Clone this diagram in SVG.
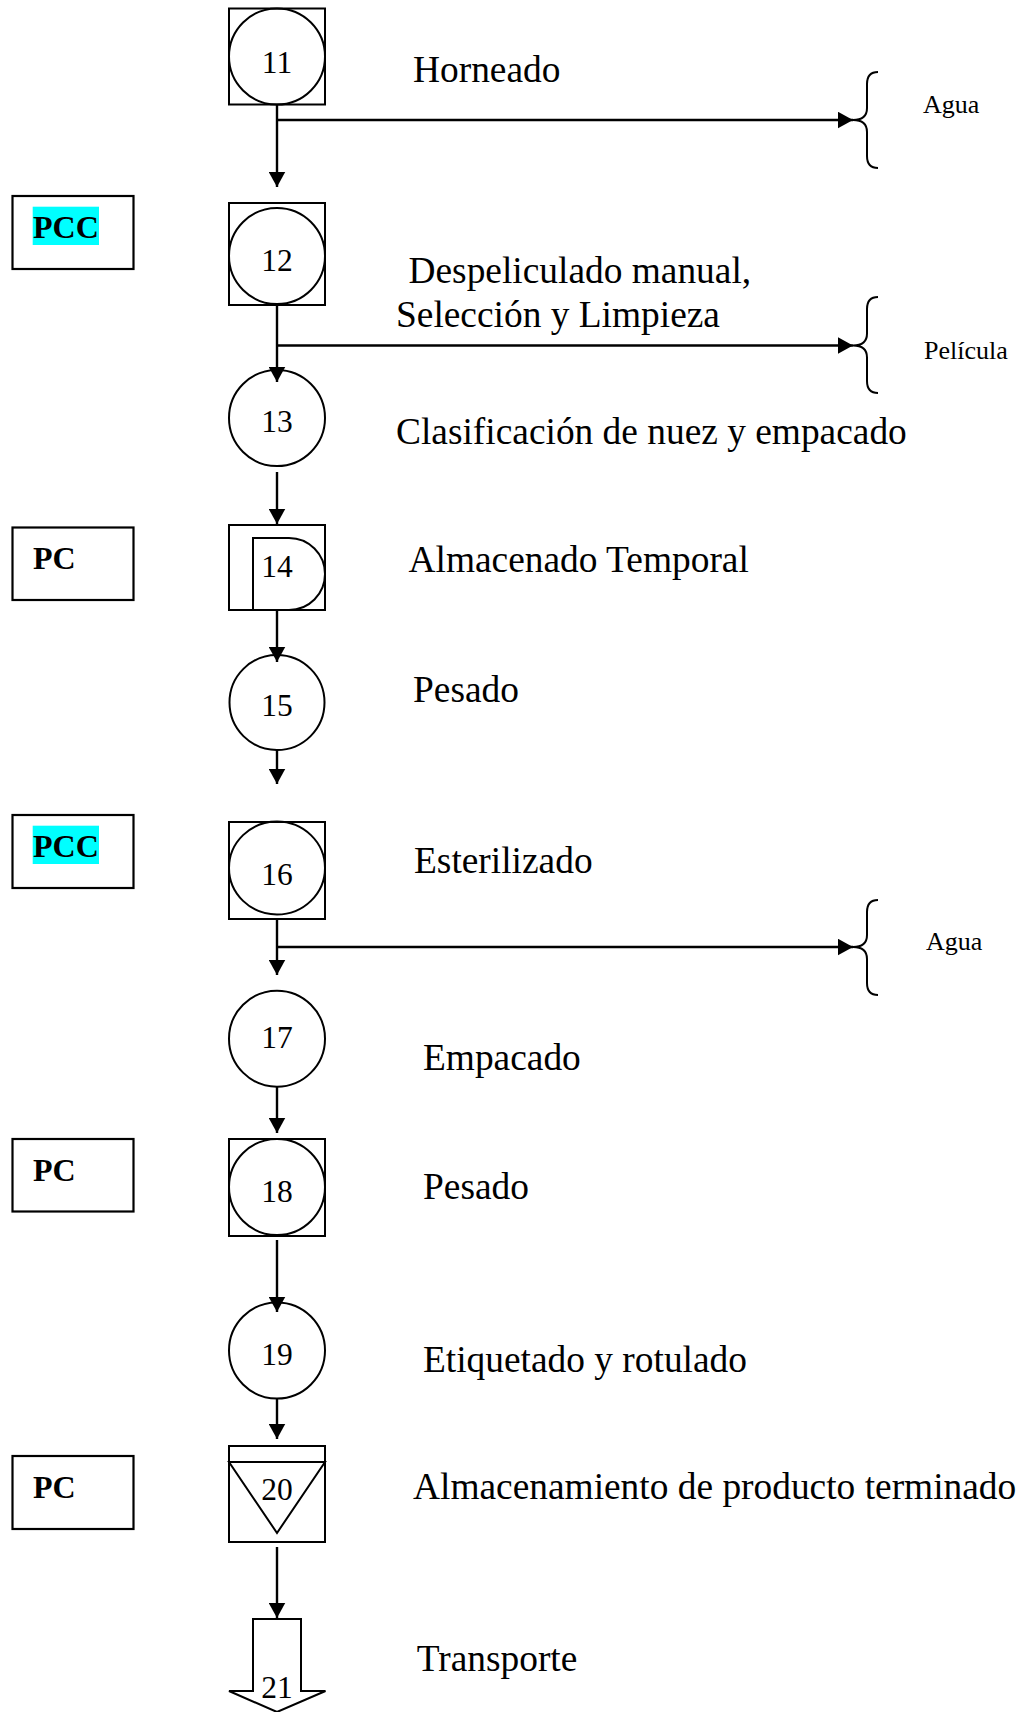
<svg xmlns="http://www.w3.org/2000/svg" width="1019" height="1712" viewBox="0 0 1019 1712">
  <defs>
    <style>
      .shape { fill: none; stroke: #000; stroke-width: 2; }
      .box { fill: #fff; stroke: #000; stroke-width: 2.2; }
      .flow { fill: none; stroke: #000; stroke-width: 2.4; }
      .brace { fill: none; stroke: #000; stroke-width: 2; }
      .num { font-family: "Liberation Serif", "Times New Roman", serif; font-size: 31.5px; text-anchor: middle; fill: #000; }
      .step { font-family: "Liberation Serif", "Times New Roman", serif; font-size: 37.4px; fill: #000; }
      .out { font-family: "Liberation Serif", "Times New Roman", serif; font-size: 26px; fill: #000; }
      .ctl { font-family: "Liberation Serif", "Times New Roman", serif; font-size: 32px; font-weight: bold; fill: #000; }
      .hl { fill: #00ffff; }
    </style>
    <marker id="arrow" markerUnits="userSpaceOnUse" markerWidth="17" markerHeight="17" refX="15.5" refY="8.5" orient="auto">
      <path d="M0,0 L15.5,8.5 L0,17 Z" fill="#000"/>
    </marker>
  </defs>

  <rect width="1019" height="1712" fill="#fff"/>

  <!-- Control point boxes -->
  <g id="pcc-1">
    <rect class="box" x="12.5" y="196" width="121" height="73"/>
    <rect class="hl" x="32.7" y="206.7" width="66.3" height="38.3"/>
    <text class="ctl" x="33" y="238.3">PCC</text>
  </g>
  <g id="pc-1">
    <rect class="box" x="12.5" y="527.5" width="121" height="72.5"/>
    <text class="ctl" x="33" y="568.5">PC</text>
  </g>
  <g id="pcc-2">
    <rect class="box" x="12.5" y="815" width="121" height="73"/>
    <rect class="hl" x="32.7" y="825.7" width="66.3" height="38.3"/>
    <text class="ctl" x="33" y="857.3">PCC</text>
  </g>
  <g id="pc-2">
    <rect class="box" x="12.5" y="1139" width="121" height="72.5"/>
    <text class="ctl" x="33" y="1181">PC</text>
  </g>
  <g id="pc-3">
    <rect class="box" x="12.5" y="1456" width="121" height="73"/>
    <text class="ctl" x="33" y="1498.3">PC</text>
  </g>

  <!-- Connectors -->
  <g id="connectors">
    <line class="flow" x1="277" y1="104" x2="277" y2="187" marker-end="url(#arrow)"/>
    <line class="flow" x1="277" y1="120" x2="853" y2="120" marker-end="url(#arrow)"/>
    <line class="flow" x1="277" y1="305" x2="277" y2="382" marker-end="url(#arrow)"/>
    <line class="flow" x1="277" y1="345.5" x2="853" y2="345.5" marker-end="url(#arrow)"/>
    <line class="flow" x1="277" y1="472" x2="277" y2="524" marker-end="url(#arrow)"/>
    <line class="flow" x1="277" y1="610" x2="277" y2="662" marker-end="url(#arrow)"/>
    <line class="flow" x1="277" y1="750" x2="277" y2="784" marker-end="url(#arrow)"/>
    <line class="flow" x1="277" y1="919" x2="277" y2="975" marker-end="url(#arrow)"/>
    <line class="flow" x1="277" y1="947" x2="853" y2="947" marker-end="url(#arrow)"/>
    <line class="flow" x1="277" y1="1087" x2="277" y2="1133" marker-end="url(#arrow)"/>
    <line class="flow" x1="277" y1="1240" x2="277" y2="1312" marker-end="url(#arrow)"/>
    <line class="flow" x1="277" y1="1399" x2="277" y2="1439" marker-end="url(#arrow)"/>
    <line class="flow" x1="277" y1="1547" x2="277" y2="1618" marker-end="url(#arrow)"/>
  </g>

  <!-- Outputs -->
  <g id="out-agua-1">
    <path class="brace" d="M878,72 Q867,72 867,84 L867,108 Q867,120 853,120 Q867,120 867,132 L867,156 Q867,168 878,168"/>
    <text class="out" x="923" y="113">Agua</text>
  </g>
  <g id="out-pelicula">
    <path class="brace" d="M878,297 Q867,297 867,309 L867,333.5 Q867,345.5 853,345.5 Q867,345.5 867,357.5 L867,381 Q867,393 878,393"/>
    <text class="out" x="924" y="359">Película</text>
  </g>
  <g id="out-agua-2">
    <path class="brace" d="M878,900 Q867,900 867,912 L867,935 Q867,947 853,947 Q867,947 867,959 L867,983 Q867,995 878,995"/>
    <text class="out" x="926" y="950">Agua</text>
  </g>

  <!-- Process steps -->
  <g id="step-11">
    <rect class="shape" x="229" y="8.5" width="96" height="96"/>
    <circle class="shape" cx="277" cy="56.5" r="48"/>
    <text class="num" x="277" y="72.7">11</text>
    <text class="step" x="413" y="81.5">Horneado</text>
  </g>
  <g id="step-12">
    <rect class="shape" x="229" y="203" width="96" height="102"/>
    <circle class="shape" cx="277" cy="256" r="48"/>
    <text class="num" x="277" y="270.7">12</text>
    <text class="step" x="408.5" y="282.7">Despeliculado manual,</text>
    <text class="step" x="396" y="326.7">Selección y Limpieza</text>
  </g>
  <g id="step-13">
    <circle class="shape" cx="277" cy="418" r="48"/>
    <text class="num" x="277" y="431.7">13</text>
    <text class="step" x="396" y="443.7">Clasificación de nuez y empacado</text>
  </g>
  <g id="step-14">
    <rect class="shape" x="229" y="525" width="96" height="85"/>
    <path class="shape" d="M253,538 H289 A36,36 0 0 1 289,610 H253 Z"/>
    <text class="num" x="277" y="577">14</text>
    <text class="step" x="408.5" y="571.5">Almacenado Temporal</text>
  </g>
  <g id="step-15">
    <circle class="shape" cx="277" cy="702.5" r="47.5"/>
    <text class="num" x="277" y="716">15</text>
    <text class="step" x="413" y="702">Pesado</text>
  </g>
  <g id="step-16">
    <rect class="shape" x="229" y="822" width="96" height="97"/>
    <ellipse class="shape" cx="277" cy="868" rx="48" ry="46.5"/>
    <text class="num" x="277" y="885">16</text>
    <text class="step" x="414" y="873">Esterilizado</text>
  </g>
  <g id="step-17">
    <circle class="shape" cx="277" cy="1038.7" r="48"/>
    <text class="num" x="277" y="1048.3">17</text>
    <text class="step" x="423" y="1070.3">Empacado</text>
  </g>
  <g id="step-18">
    <rect class="shape" x="229" y="1139" width="96" height="97"/>
    <circle class="shape" cx="277" cy="1187" r="48"/>
    <text class="num" x="277" y="1201.7">18</text>
    <text class="step" x="423" y="1199.3">Pesado</text>
  </g>
  <g id="step-19">
    <circle class="shape" cx="277" cy="1350.5" r="48"/>
    <text class="num" x="277" y="1365">19</text>
    <text class="step" x="423" y="1372">Etiquetado y rotulado</text>
  </g>
  <g id="step-20">
    <rect class="shape" x="229" y="1446" width="96" height="96"/>
    <line class="shape" x1="229" y1="1462" x2="325" y2="1462"/>
    <path class="shape" d="M229,1462 L325,1462 L277,1533 Z"/>
    <text class="num" x="277" y="1500">20</text>
    <text class="step" x="413" y="1498.5">Almacenamiento de producto terminado</text>
  </g>
  <g id="step-21">
    <path class="shape" d="M253,1619 H301 V1691 H325.5 L277,1712 L229,1691 H253 Z"/>
    <text class="num" x="277" y="1698.3">21</text>
    <text class="step" x="416.7" y="1671">Transporte</text>
  </g>
</svg>
